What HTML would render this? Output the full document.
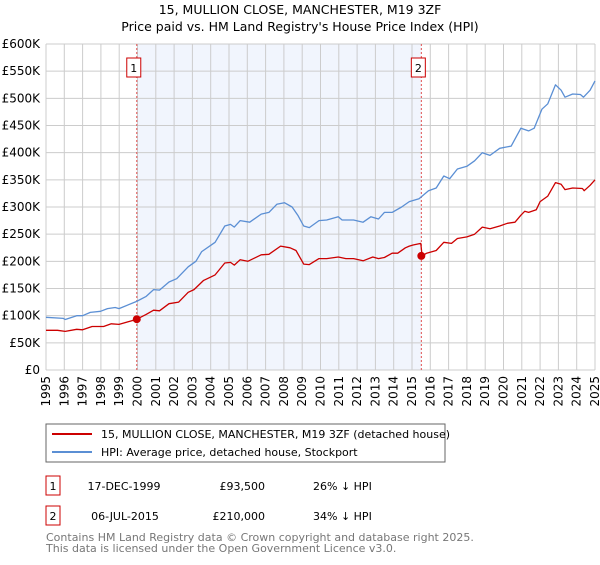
<!DOCTYPE html>
<html><head><meta charset="utf-8"><style>
body{margin:0;background:#fff;font-family:"Liberation Sans","DejaVu Sans",sans-serif;}
svg text{font-family:"DejaVu Sans","Liberation Sans",sans-serif;}
</style></head><body>
<svg id="c" width="600" height="560" xmlns="http://www.w3.org/2000/svg">
<text x="300" y="14" text-anchor="middle" font-size="12.5" fill="#000">15, MULLION CLOSE, MANCHESTER, M19 3ZF</text>
<text x="300" y="31" text-anchor="middle" font-size="12.5" fill="#000">Price paid vs. HM Land Registry's House Price Index (HPI)</text>
<g id="grid"></g><g id="series"></g><g id="axes"></g>
<g>
<rect x="46" y="424" width="399" height="38" fill="#fff" stroke="#666"/>
<line x1="52" y1="434" x2="92" y2="434" stroke="#cc0000" stroke-width="2"/>
<text x="101" y="438" font-size="11">15, MULLION CLOSE, MANCHESTER, M19 3ZF (detached house)</text>
<line x1="52" y1="452" x2="92" y2="452" stroke="#5b8fd4" stroke-width="2"/>
<text x="101" y="456" font-size="11">HPI: Average price, detached house, Stockport</text>
</g>
<g font-size="11">
<rect x="46" y="476" width="14" height="19" fill="#fff" stroke="#cc0000"/>
<text x="53" y="490" text-anchor="middle">1</text>
<text x="124" y="490" text-anchor="middle">17-DEC-1999</text>
<text x="265" y="490" text-anchor="end">£93,500</text>
<text x="313" y="490">26% ↓ HPI</text>
<rect x="46" y="506" width="14" height="19" fill="#fff" stroke="#cc0000"/>
<text x="53" y="520" text-anchor="middle">2</text>
<text x="125" y="520" text-anchor="middle">06-JUL-2015</text>
<text x="265" y="520" text-anchor="end">£210,000</text>
<text x="313" y="520">34% ↓ HPI</text>
</g>
<text x="46" y="541" font-size="11" fill="#777">Contains HM Land Registry data © Crown copyright and database right 2025.</text>
<text x="46" y="552" font-size="11" fill="#777">This data is licensed under the Open Government Licence v3.0.</text>
</svg>
<script>
const hpiYears=[1995,1995.95,1996.05,1996.68,1997,1997.42,1997.98,1998.36,1998.78,1998.99,1999.94,2000.46,2000.88,2001.2,2001.72,2002.14,2002.77,2003.19,2003.51,2004.24,2004.77,2005.08,2005.29,2005.61,2006.13,2006.76,2007.18,2007.61,2008.03,2008.45,2008.76,2009.08,2009.39,2009.92,2010.34,2010.97,2011.18,2011.81,2012.33,2012.75,2013.17,2013.49,2013.91,2014.43,2014.85,2015.38,2015.9,2016.32,2016.74,2017.06,2017.48,2018.0,2018.42,2018.84,2019.26,2019.79,2020.42,2020.95,2021.37,2021.68,2022.1,2022.42,2022.84,2023.15,2023.36,2023.78,2024.2,2024.37,2024.73,2025.0];
const hpiValues=[97,95,93,100,100,106,108,113,115,113,126,135,148,147,162,168,190,200,218,235,265,268,263,275,272,287,290,305,308,300,285,265,262,275,276,282,276,276,272,282,278,290,290,300,310,315,330,335,357,352,370,375,385,400,395,408,412,445,440,445,480,490,525,515,502,508,507,502,515,532];
const ppYears=[1995,1995.63,1996.05,1996.68,1997,1997.52,1998.15,1998.57,1998.99,1999.62,1999.96,2000.46,2000.88,2001.2,2001.72,2002.25,2002.77,2003.09,2003.61,2004.24,2004.77,2005.08,2005.29,2005.61,2006.03,2006.76,2007.18,2007.82,2008.34,2008.66,2009.08,2009.39,2009.92,2010.34,2010.97,2011.39,2011.81,2012.33,2012.86,2013.17,2013.49,2013.91,2014.22,2014.64,2014.85,2015.06,2015.48,2015.55,2015.8,2016.32,2016.74,2017.16,2017.48,2018.0,2018.42,2018.84,2019.26,2019.79,2020.21,2020.63,2020.95,2021.16,2021.37,2021.79,2022.0,2022.42,2022.84,2023.15,2023.36,2023.78,2024.31,2024.41,2024.73,2025.0];
const ppValues=[73,73,71,75,74,80,80,85,84,90,93.5,102,110,109,122,125,143,148,165,175,197,198,193,203,200,212,213,228,225,220,195,194,205,205,208,205,205,201,208,205,207,215,215,225,228,230,233,210,215,220,235,233,242,245,250,263,260,265,270,272,285,292,290,295,310,320,345,342,332,335,334,330,340,350];
const sales=[{n:"1",year:1999.96,value:93.5},{n:"2",year:2015.51,value:210}];
const yTicks=[0,50,100,150,200,250,300,350,400,450,500,550,600];
const xTicks=[1995,1996,1997,1998,1999,2000,2001,2002,2003,2004,2005,2006,2007,2008,2009,2010,2011,2012,2013,2014,2015,2016,2017,2018,2019,2020,2021,2022,2023,2024,2025];
const X0=46,X1=595,Y0=370,Y1=44;
const xs=y=>X0+(y-1995)/30*(X1-X0);
const ys=v=>Y0-v/600*(Y0-Y1);
const NS="http://www.w3.org/2000/svg";
function mk(t,a,p){const e=document.createElementNS(NS,t);for(const k in a)e.setAttribute(k,a[k]);p.appendChild(e);return e;}
const grid=document.getElementById('grid'),ser=document.getElementById('series'),ax=document.getElementById('axes');
const sh=mk('rect',{x:xs(sales[0].year),y:Y1,width:xs(sales[1].year)-xs(sales[0].year),height:Y0-Y1,fill:'#f1f5fd'},grid);


yTicks.forEach(v=>{
 const l=mk('line',{x1:X0,x2:X1,y1:ys(v),y2:ys(v),stroke:'#ccc','stroke-width':1},grid);
 
 
 const t=mk('text',{x:X0-6,y:ys(v)+4,'text-anchor':'end','font-size':12},ax);
 t.textContent=v===0?'£0':'£'+v+'K';
 
 
});
xTicks.forEach(y=>{
 const l=mk('line',{x1:xs(y),x2:xs(y),y1:Y1,y2:Y0,stroke:'#ccc','stroke-width':1},grid);
 
 
 const t=mk('text',{x:0,y:0,'text-anchor':'end','font-size':12,transform:`translate(${xs(y)+4},${Y0+6}) rotate(-90)`},ax);
 t.textContent=y;
 
 
});
sales.forEach(s=>{
 const l=mk('line',{x1:xs(s.year),x2:xs(s.year),y1:Y1,y2:Y0,stroke:'#e05050','stroke-width':1,'stroke-dasharray':'2,2'},ser);
 
 
});
function path(xa,va,col,name){
 const d=xa.map((y,i)=>(i?'L':'M')+xs(y).toFixed(1)+','+ys(va[i]).toFixed(1)).join('');
 const p=mk('path',{d,fill:'none',stroke:col,'stroke-width':1.3,'stroke-linejoin':'round'},ser);
 
 
}
path(hpiYears,hpiValues,'#5b8fd4','hpi-line');
path(ppYears,ppValues,'#cc0000','price-paid-line');
sales.forEach(s=>{
 const c=mk('circle',{cx:xs(s.year),cy:ys(s.value),r:4,fill:'#cc0000'},ser);
 
 
 const bx=xs(s.year)-3;
 const r=mk('rect',{x:bx-7,y:58,width:14,height:19,fill:'#fff',stroke:'#cc0000'},ser);
 
 
 const t=mk('text',{x:bx,y:72,'text-anchor':'middle','font-size':11},ser);
 t.textContent=s.n;
 
 
});
</script>
</body></html>
